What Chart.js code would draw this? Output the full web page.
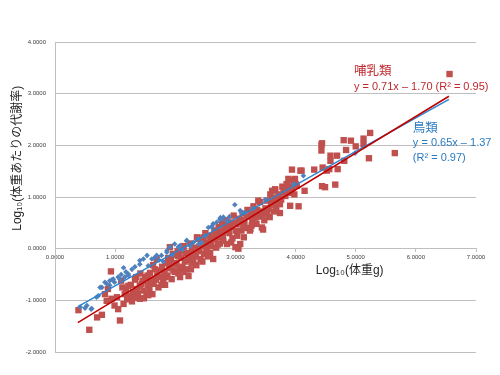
<!DOCTYPE html>
<html>
<head>
<meta charset="utf-8">
<script src="https://cdn.jsdelivr.net/npm/chart.js@4.4.1/dist/chart.umd.min.js"></script>
<style>
  html, body { margin: 0; padding: 0; background: #fff; }
  #wrap { width: 500px; height: 375px; position: relative; }
</style>
</head>
<body>
<div id="wrap"><canvas id="chart"></canvas></div>
<script>
// Log10 body mass (g) vs Log10 mass-specific metabolic rate
const mammalLogMass = [
  0.39, 0.57, 0.70, 0.78, 0.93, 0.88, 0.83, 0.86, 0.94, 1.03, 1.08, 0.99, 1.05, 1.14, 1.16, 1.25,
  1.30, 1.36, 1.22, 1.41, 1.44, 1.10, 1.18, 1.28, 1.33, 1.38, 1.47, 1.41, 1.50, 1.52, 1.55, 1.58,
  1.60, 1.62, 1.64, 1.66, 1.69, 1.70, 1.72, 1.75, 1.78, 1.80, 1.82, 1.85, 1.87, 1.90, 1.91, 1.93,
  1.94, 1.96, 1.97, 2.00, 2.02, 2.04, 2.05, 2.08, 2.10, 2.12, 2.14, 2.16, 2.18, 2.20, 2.22, 2.24,
  2.25, 2.27, 2.30, 2.32, 2.34, 2.36, 2.38, 2.40, 2.42, 2.44, 2.46, 2.48, 2.50, 2.52, 2.52, 2.55,
  2.57, 2.58, 2.60, 2.63, 2.65, 2.66, 2.68, 2.70, 2.72, 2.74, 2.76, 2.78, 2.80, 2.82, 2.84, 2.86,
  2.88, 2.90, 2.92, 2.95, 2.97, 3.00, 3.02, 3.05, 3.06, 3.08, 3.10, 3.12, 3.15, 3.18, 3.20, 3.22,
  3.24, 3.25, 3.28, 3.30, 3.32, 3.35, 3.38, 3.40, 3.41, 3.44, 3.46, 3.47, 3.50, 3.52, 3.55, 3.57,
  3.58, 3.61, 3.61, 3.63, 3.66, 3.66, 3.70, 3.72, 3.74, 3.74, 3.78, 3.80, 3.83, 3.85, 3.88, 3.91,
  3.91, 3.94, 3.95, 3.97, 3.99, 4.02, 4.05, 4.08, 4.10, 4.15, 4.31, 4.43, 4.43, 4.44, 4.44, 4.45,
  4.49, 4.52, 4.56, 4.58, 4.58, 4.66, 4.69, 4.70, 4.80, 4.81, 4.84, 4.92, 5.00, 5.13, 5.13, 5.22,
  5.24, 5.65, 6.56,
  1.12, 1.20, 1.26, 1.32, 1.46, 1.48, 1.54, 1.57, 1.68, 1.73, 1.83, 1.88, 1.99, 2.06, 2.15, 2.28,
  2.35, 2.45, 2.62, 2.75, 2.93, 3.03, 3.14, 3.26, 3.36, 3.48, 3.68, 3.76, 3.86, 3.98, 1.55,
  1.35, 1.42, 1.58, 1.63, 1.77, 1.84, 1.92, 2.01, 2.07, 2.13, 2.21, 2.26, 2.33, 2.41, 2.47, 2.54,
  2.59, 2.67, 2.71, 2.79, 2.83, 2.89, 2.96, 3.01, 3.09, 3.13, 3.19, 3.27, 3.33, 3.42, 3.53, 3.59,
  3.64, 3.71, 3.82, 3.89, 3.93, 4.00
];
const mammalLogRate = [
  -1.19, -1.57, -1.33, -1.28, -0.44, -0.78, -0.88, -1.01, -0.97, -0.94, -1.39, -1.10, -1.17, -1.07, -0.88, -0.91,
  -0.84, -0.78, -0.72, -0.97, -0.68, -0.62, -0.80, -1.02, -0.60, -0.88, -0.81, -0.72, -0.55, -0.88, -0.70, -0.47,
  -0.62, -0.88, -0.68, -0.40, -0.20, -0.52, -0.75, -0.55, -0.35, -0.62, -0.45, -0.28, -0.52, -0.38, 0.03, -0.20,
  -0.59, -0.10, -0.42, -0.28, -0.30, -0.05, -0.48, -0.55, -0.18, -0.35, 0.05, -0.25, -0.08, -0.40, -0.53, -0.12,
  0.10, -0.28, -0.23, 0.02, -0.15, 0.22, 0.19, -0.05, -0.20, 0.08, 0.15, -0.10, 0.30, 0.03, -0.04, 0.12,
  0.25, -0.08, 0.05, -0.20, 0.35, 0.18, 0.02, 0.28, 0.42, 0.10, 0.22, 0.48, 0.15, 0.35, 0.55, 0.09,
  0.51, 0.30, 0.42, 0.20, 0.64, 0.03, 0.48, 0.00, 0.58, 0.09, 0.35, 0.68, 0.50, 0.40, 0.75, 0.62,
  0.35, 0.38, 0.55, 0.82, 0.70, 0.48, 0.93, 0.62, 0.90, 0.41, 0.37, 0.67, 0.78, 0.93, 0.77, 0.61,
  1.05, 0.93, 1.12, 0.99, 1.15, 1.13, 0.90, 1.05, 0.69, 0.86, 1.20, 1.09, 1.02, 1.25, 1.35, 1.32,
  0.83, 1.53, 1.19, 1.32, 1.35, 1.22, 0.82, 1.51, 1.51, 1.12, 1.53, 1.90, 2.01, 1.21, 2.04, 1.57,
  1.19, 1.51, 1.54, 1.70, 1.80, 1.24, 1.80, 1.54, 2.10, 1.70, 1.91, 2.09, 1.98, 2.02, 2.13, 1.75,
  2.24, 1.85, 3.38,
  -0.75, -0.98, -0.70, -0.95, -0.62, -0.96, -0.52, -0.78, -0.60, -0.42, -0.70, -0.18, -0.45, -0.15, -0.45, -0.02,
  -0.32, -0.25, 0.20, 0.32, 0.12, 0.25, 0.22, 0.68, 0.75, 0.55, 0.80, 0.95, 1.12, 1.05, -0.90,
  -0.55, -0.48, -0.60, -0.32, -0.70, -0.55, -0.30, -0.12, -0.38, -0.05, -0.22, -0.40, -0.10, 0.05, 0.22, -0.15,
  0.15, 0.30, 0.08, 0.25, 0.45, 0.38, 0.50, 0.35, 0.55, 0.42, 0.62, 0.45, 0.60, 0.72, 0.70, 0.85,
  0.72, 0.98, 1.15, 1.20, 1.08, 1.25
];
const birdLogMass = [
  0.42, 0.50, 0.53, 0.60, 0.61, 0.69, 0.72, 0.75, 0.78, 0.83, 0.86, 0.91, 0.91, 0.95, 0.97, 0.99,
  1.05, 1.08, 1.10, 1.14, 1.16, 1.18, 1.22, 1.22, 1.28, 1.33, 1.41, 1.41, 1.47, 1.53, 1.55, 1.61,
  1.66, 1.69, 1.73, 1.77, 1.80, 1.86, 1.86, 1.91, 1.95, 1.99, 2.05, 2.08, 2.12, 2.19, 2.19, 2.25,
  2.30, 2.38, 2.39, 2.44, 2.50, 2.55, 2.61, 2.61, 2.63, 2.69, 2.74, 2.75, 2.77, 2.80, 2.86, 2.90,
  2.99, 3.08, 3.10, 3.16, 3.30, 3.50, 3.97, 4.13, 4.99
];
const birdLogRate = [
  -1.13, -1.15, -1.10, -1.17, -1.16, -0.94, -0.91, -0.75, -0.75, -0.65, -0.68, -0.62, -0.71, -0.60, -0.59, -0.65,
  -0.55, -0.59, -0.50, -0.37, -0.55, -0.45, -0.52, -0.49, -0.40, -0.35, -0.23, -0.30, -0.20, -0.13, -0.33, -0.20,
  -0.17, -0.13, -0.22, -0.13, -0.25, -0.07, -0.04, 0.03, -0.12, 0.09, 0.03, 0.06, -0.02, 0.15, 0.16, 0.05,
  0.12, 0.19, 0.09, 0.12, 0.25, 0.41, 0.41, 0.44, 0.48, 0.51, 0.57, 0.60, 0.57, 0.61, 0.54, 0.62,
  0.85, 0.74, 0.70, 0.70, 0.78, 0.95, 1.25, 1.41, 1.85
];

// trend line end points
const fitLogMass = [0.38, 6.55];
const mammalFitRate = [-1.43, 2.95];
const birdFitRate = [-1.12, 2.89];

const xTicks = [0, 1, 2, 3, 4, 5, 6, 7];
const yTicks = [-2, -1, 0, 1, 2, 3, 4];

const RED = '#C0504D';
const BLUE = '#4F81BD';
const GRID = '#BFBFBF';
const FONT = "'Liberation Sans', 'Noto Sans CJK JP', sans-serif";

function pairs(xs, ys) {
  return xs.map((x, i) => ({ x: x, y: ys[i] }));
}

// equation labels, placed in data units
const labels = [
  { text: '哺乳類', x: 4.97, y: 3.42, color: '#C0272D', size: 12.5 },
  { text: 'y = 0.71x – 1.70 (R² = 0.95)', x: 4.97, y: 3.12, color: '#C0272D', size: 11 },
  { text: '鳥類', x: 5.95, y: 2.33, color: '#2A7BC0', size: 12.5 },
  { text: 'y = 0.65x – 1.37', x: 5.95, y: 2.05, color: '#2A7BC0', size: 11 },
  { text: '(R² = 0.97)', x: 5.95, y: 1.75, color: '#2A7BC0', size: 11 }
];

const textPlugin = {
  id: 'texts',
  afterDraw(chart) {
    const ctx = chart.ctx;
    const xs = chart.scales.x, ys = chart.scales.y;
    ctx.save();
    ctx.textBaseline = 'middle';
    ctx.textAlign = 'left';
    labels.forEach(l => {
      ctx.fillStyle = l.color;
      ctx.font = l.size + 'px ' + FONT;
      ctx.fillText(l.text, xs.getPixelForValue(l.x), ys.getPixelForValue(l.y));
    });

    // x title under the axis labels
    ctx.fillStyle = '#262626';
    ctx.textAlign = 'center';
    ctx.font = '12px ' + FONT;
    ctx.fillText('Log₁₀(体重g)', xs.getPixelForValue(4.9), ys.getPixelForValue(-0.43));

    // y title, rotated
    ctx.translate(18, ys.getPixelForValue(1.75));
    ctx.rotate(-Math.PI / 2);
    ctx.fillText('Log₁₀(体重あたりの代謝率)', 0, 0);
    ctx.restore();
  }
};

new Chart(document.getElementById('chart'), {
  type: 'scatter',
  data: {
    datasets: [
      {
        label: '哺乳類 近似',
        data: pairs(fitLogMass, mammalFitRate),
        showLine: true,
        borderColor: '#C00000',
        borderWidth: 1.5,
        pointRadius: 0
      },
      {
        label: '鳥類 近似',
        data: pairs(fitLogMass, birdFitRate),
        showLine: true,
        borderColor: '#2E86D1',
        borderWidth: 1.5,
        pointRadius: 0
      },
      {
        label: '鳥類',
        data: pairs(birdLogMass, birdLogRate),
        pointStyle: 'rectRot',
        pointRadius: 2.8,
        pointBackgroundColor: BLUE,
        pointBorderWidth: 0
      },
      {
        label: '哺乳類',
        data: pairs(mammalLogMass, mammalLogRate),
        pointStyle: 'rect',
        pointRadius: 4.5,
        pointBackgroundColor: RED,
        pointBorderWidth: 0
      }
    ]
  },
  options: {
    responsive: true,
    maintainAspectRatio: false,
    animation: false,
    layout: { padding: { left: 0, right: 24, top: 42, bottom: 23 } },
    plugins: {
      legend: { display: false },
      tooltip: { enabled: false }
    },
    scales: {
      x: {
        type: 'linear',
        position: { y: 0 },
        min: 0,
        max: 7,
        afterBuildTicks: axis => { axis.ticks = xTicks.map(v => ({ value: v })); },
        ticks: {
          padding: 2,
          color: '#404040',
          font: { size: 6, family: FONT },
          callback: v => Number(v).toFixed(4)
        },
        grid: { drawOnChartArea: false, drawTicks: true, tickLength: 3, color: GRID },
        border: { color: GRID, width: 1 }
      },
      y: {
        type: 'linear',
        position: 'left',
        min: -2,
        max: 4,
        afterBuildTicks: axis => { axis.ticks = yTicks.map(v => ({ value: v })); },
        afterFit: axis => { axis.width = 55; },
        ticks: {
          padding: 9,
          color: '#404040',
          font: { size: 6, family: FONT },
          callback: v => Number(v).toFixed(4)
        },
        grid: { color: GRID, drawTicks: false },
        border: { color: GRID, width: 1 }
      }
    }
  },
  plugins: [textPlugin]
});
</script>
</body>
</html>
